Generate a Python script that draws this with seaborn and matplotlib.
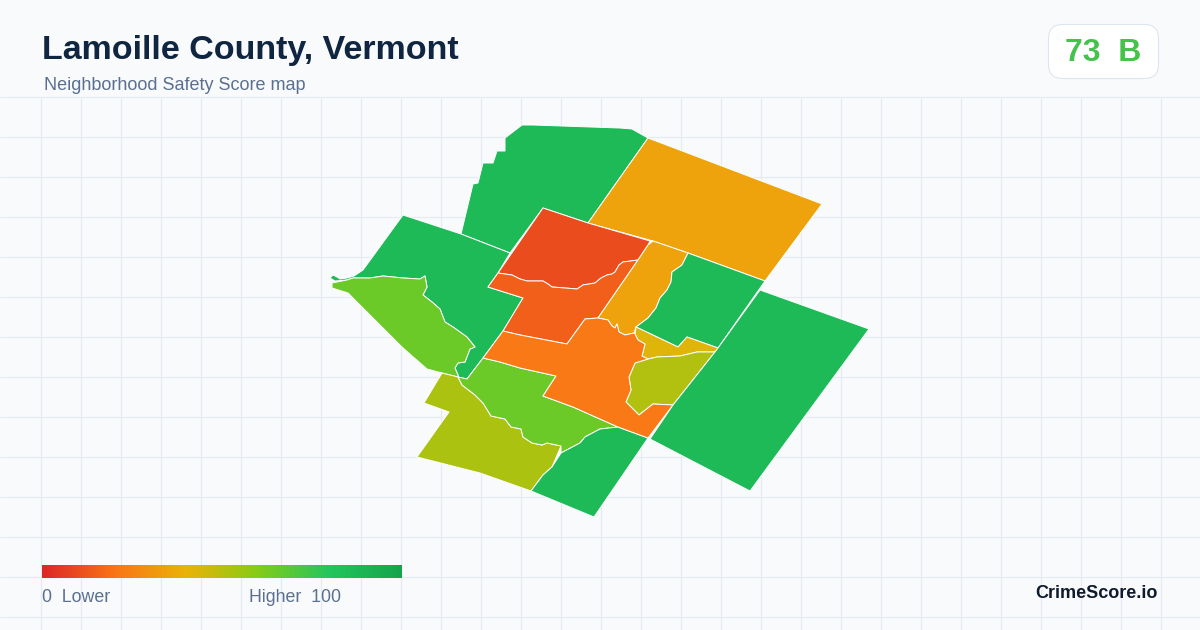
import numpy as np
import pandas as pd
import matplotlib
matplotlib.use("Agg")
import matplotlib.pyplot as plt
from matplotlib.patches import FancyBboxPatch
import seaborn as sns

title = "Lamoille County, Vermont"
subtitle = "Neighborhood Safety Score map"
badge_score = "73  B"
brand = "CrimeScore.io"
legend_low = "0  Lower"
legend_high = "Higher  100"

ramp_colors = ["#dc2626", "#f97316", "#eab308", "#84cc16", "#22c55e", "#16a34a"]

# shared borders between tracts
red_south = [(498,273),(512,275),(520,279),(527,281),(543,281),(548,284),(552,287),(565,288),(577,289),(583,285),(595,283),(601,278),(607,275),(612,274),(615,272),(619,265),(623,262),(638,260)]
finger_south = [(598,318),(608,320),(612,326),(615,328),(617,324),(619,332),(625,335),(634,333)]
finger_east = [(688,253),(682,265),(672,272),(671,282),(667,290),(660,298),(656,308),(648,318),(636,327)]
small_west = [(635,334),(638,340),(645,344),(642,356),(648,359)]
small_south = [(648,359),(657,357),(680,356),(697,352),(715,352)]
olive_west = [(648,359),(635,363),(629,377),(631,390),(626,402),(639,415),(653,404),(673,405)]
pocket = [(458,377),(458,375),(455,368),(458,363),(465,362),(470,349),(475,347),(467,337),(453,327),(445,322),(440,309),(432,302),(423,295),(427,287),(425,276),(420,279),(403,278),(383,276),(370,278),(353,278)]
sw_river = [(458,377),(462,385),(475,395),(483,403),(491,416),(505,419),(511,427),(521,429),(523,437),(532,443),(542,445),(547,443),(561,446)]
south_arc = [(561,453),(580,443),(585,437),(600,429),(618,427)]
mid_north = [(483,358),(500,362),(520,368),(556,376),(543,396),(573,407),(618,427)]

tract_ids = ["north", "northeast", "west", "west_river", "southwest", "south_mid", "south",
             "upper_core", "core_band", "finger", "east_mid", "small_yellow", "small_olive",
             "central", "east"]
tract_scores = [86, 35, 86, 65, 52, 65, 86, 10, 15, 35, 86, 42, 51, 22, 86]
tract_shapes = [
    [(461,234),(473,184),(478,183),(483,163),(493,163),(497,151),(505,151),(505,138),(522,125),(533,125),(620,128),(632,129),(648,138),(588,223),(543,208),(510,253)],
    [(648,138),(822,204),(765,281),(688,253),(653,241),(588,223)],
    [(403,215),(461,234),(510,253),(498,273),(488,287),(523,298),(503,331),(483,358),(467,379),(458,377)] + pocket[1:] + [(347,280),(335,281),(330,278),(333,275),(337,277),(340,279),(347,278),(354,276),(363,270)],
    [(332,283),(347,280)] + pocket[::-1] + [(442,373),(427,369),(403,348),(375,320),(348,293),(332,288)],
    [(442,373)] + sw_river + [(552,467),(543,475),(531,491),(480,473),(417,457),(449,412),(424,403)],
    mid_north + south_arc[::-1] + [(561,446)] + sw_river[::-1][1:] + [(467,379)],
    south_arc + [(648,438),(594,517),(531,491),(543,475),(552,467)],
    [(543,208),(588,223),(650,241),(648,245),(638,260)] + red_south[::-1][1:] ,
    [(488,287)] + red_south + [(598,318),(585,319),(567,344),(520,335),(503,331),(523,298)],
    [(653,241),(688,253)] + finger_east[1:] + [(634,333)] + finger_south[::-1][1:] + [(638,260),(648,245)],
    finger_east + [(678,347),(687,337),(718,348),(765,281)],
    [(636,327),(678,347),(687,337),(718,348),(715,352)] + small_south[::-1][1:] + small_west[::-1][1:],
    olive_west + [(715,352)] + small_south[::-1][1:],
    [(483,358),(503,331),(520,335),(567,344),(585,319)] + finger_south + small_west + olive_west[1:] + [(648,438),(618,427),(573,407),(543,396),(556,376),(520,368),(500,362)],
    [(760,290),(869,329),(750,491),(650,439),(673,405),(715,352),(718,348)],
]

grid_x = np.arange(40.5, 1200, 40)
grid_y = np.arange(96.5, 630, 40)

sns.set_theme(style="white", rc={"font.family": ["Liberation Sans", "DejaVu Sans"]})
cmap = sns.blend_palette(ramp_colors, n_colors=256, as_cmap=True)

fig = plt.figure(figsize=(12, 6.3), dpi=100, facecolor="#f8fafc")
ax = fig.add_axes([0, 0, 1, 1], facecolor="#f8fafc")
ax.set_xlim(0, 1200)
ax.set_ylim(630, 0)
ax.axis("off")

ax.vlines(grid_x, 97, 630, color="#e4ecf1", lw=0.85)
ax.hlines(grid_y, 0, 1200, color="#e4ecf1", lw=0.85)

frame = pd.DataFrame({"tract": tract_ids, "score": tract_scores, "shape": tract_shapes})
for row in frame.itertuples():
    xs, ys = zip(*row.shape)
    ax.fill(xs, ys, facecolor=cmap(row.score / 100), edgecolor="white", lw=0.7, joinstyle="round", zorder=3)

ax.text(42, 50.5, title, fontsize=24.5, fontweight="bold", color="#0f2540", va="center", ha="left")
ax.text(44, 85.5, subtitle, fontsize=13, color="#5b7090", va="center", ha="left")

ax.add_patch(FancyBboxPatch((1048.5, 24.5), 110, 54, boxstyle="round,pad=0,rounding_size=14",
                            fc="white", ec="#dfe5ee", lw=0.8, zorder=4))
ax.text(1103, 53, badge_score, fontsize=23, fontweight="bold", color="#45c24c", va="center", ha="center", zorder=5)

cax = fig.add_axes([42/1200, 1-578/630, 360/1200, 13/630])
sns.heatmap(np.linspace(0, 100, 256).reshape(1, -1), ax=cax, cmap=cmap, vmin=0, vmax=100,
            cbar=False, xticklabels=False, yticklabels=False, rasterized=True)

ax.text(42, 597.5, legend_low, fontsize=12.8, color="#5b7090", va="center", ha="left")
ax.text(249, 597.5, legend_high, fontsize=12.8, color="#5b7090", va="center", ha="left")
ax.text(1158, 593.5, brand, fontsize=13, fontweight="bold", color="#0f1b2d", va="center", ha="right")

fig.savefig("out.png", dpi=100, facecolor=fig.get_facecolor())
